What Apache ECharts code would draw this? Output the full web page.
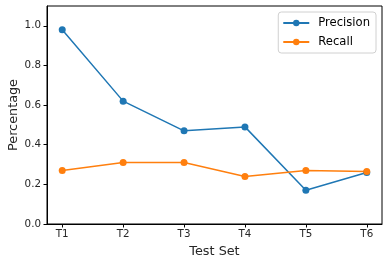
<!DOCTYPE html>
<html><head><meta charset="utf-8">
<script src="https://cdn.jsdelivr.net/npm/echarts@6/dist/echarts.min.js"></script>
<style>html,body{margin:0;padding:0;background:#fff}#c{width:389px;height:265px}</style>
</head><body><div id="c"></div>
<script>
const categories = ['T1','T2','T3','T4','T5','T6'];
const precision = [0.98, 0.62, 0.47, 0.49, 0.17, 0.26];
const recall = [0.27, 0.31, 0.31, 0.24, 0.27, 0.265];
const yTicks = [0, 0.2, 0.4, 0.6, 0.8, 1.0];
const xTicks = categories.map((c,i)=>i);

const font = 'DejaVu Sans';
const chart = echarts.init(document.getElementById('c'), null, {renderer:'canvas'});
function mk(name, vals, color){
  return {name, type:'line', data: vals.map((v,i)=>[i,v]), symbol:'circle', symbolSize:7,
    lineStyle:{width:1.5,color}, itemStyle:{color}, animation:false};
}
chart.setOption({
  animation:false,
  textStyle:{fontFamily:font},
  grid:{left:47, top:6, right:7, bottom:41, show:true, borderColor:'#000', borderWidth:1, outerBoundsMode:'none', containLabel:false},
  xAxis:{type:'value', min:-0.25, max:5.25,
    axisLine:{show:true, onZero:false, lineStyle:{color:'#000'}},
    splitLine:{show:false},
    axisTick:{show:true, length:3.5, customValues:xTicks, lineStyle:{color:'#000'}},
    axisLabel:{customValues:xTicks, formatter:v=>categories[Math.round(v)], color:'#262626', fontSize:10.3, margin:5, fontFamily:font},
    name:'Test Set', nameLocation:'middle', nameGap:21, nameMoveOverlap:false, nameTextStyle:{fontSize:12.8, color:'#262626', fontFamily:font}},
  yAxis:{type:'value', min:0, max:1.1,
    axisLine:{show:true, onZero:false, lineStyle:{color:'#000'}},
    splitLine:{show:false},
    axisTick:{show:true, length:3.5, customValues:yTicks, lineStyle:{color:'#000'}},
    axisLabel:{customValues:yTicks, formatter:v=>v.toFixed(1), color:'#262626', fontSize:10.3, margin:6, fontFamily:font},
    name:'Percentage', nameLocation:'middle', nameGap:27, nameMoveOverlap:false, nameTextStyle:{fontSize:12.8, color:'#262626', fontFamily:font}},
  legend:{orient:'vertical', right:13, top:12, itemWidth:26, itemHeight:8, itemGap:5,
    padding:[4,6,4,4], borderColor:'#d0d0d0', borderWidth:1, borderRadius:3, backgroundColor:'#fff',
    textStyle:{fontSize:11.6, lineHeight:14, color:'#000', fontFamily:font, padding:[0,0,0,4]},
    data:['Precision','Recall']},
  series:[mk('Precision', precision, '#1f77b4'), mk('Recall', recall, '#ff7f0e')]
});
</script></body></html>
